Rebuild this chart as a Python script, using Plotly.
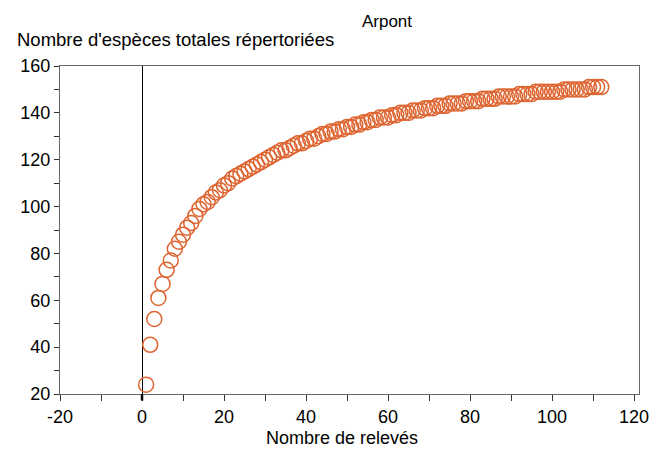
import plotly.graph_objects as go

releves = list(range(1, 113))
especes = [24, 41, 52, 61, 67, 73, 77, 82, 85, 88,
           91, 93, 96, 99, 101, 102, 104, 106, 107, 109,
           110, 112, 113, 114, 115, 116, 117, 118, 119, 120,
           121, 122, 123, 124, 124, 125, 126, 127, 127, 128,
           129, 129, 130, 131, 131, 132, 132, 133, 133, 134,
           134, 135, 135, 136, 136, 137, 137, 138, 138, 138,
           139, 139, 140, 140, 140, 141, 141, 141, 142, 142,
           142, 143, 143, 143, 144, 144, 144, 144, 145, 145,
           145, 145, 146, 146, 146, 146, 147, 147, 147, 147,
           147, 148, 148, 148, 148, 149, 149, 149, 149, 149,
           149, 149, 150, 150, 150, 150, 150, 150, 151, 151,
           151, 151]

x_ticks = [-20, 0, 20, 40, 60, 80, 100, 120]
x_labels = ["-20", "0", "20", "40", "60", "80", "100", "120"]
y_ticks = [20, 40, 60, 80, 100, 120, 140, 160]

FONT = "Liberation Sans, Arial, sans-serif"
COLOR = "#DE6430"
OFF = 8  # page body margin

fig = go.Figure()
fig.add_trace(go.Scatter(
    x=releves, y=especes, mode="markers",
    marker=dict(symbol="circle-open", size=15, color=COLOR, line=dict(width=1.5, color=COLOR)),
    showlegend=False,
))

fig.update_layout(
    width=664 - OFF, height=450 - OFF,
    margin=dict(l=57.5 - OFF, r=24.7, t=66 - OFF, b=56),
    paper_bgcolor="white", plot_bgcolor="white",
    font=dict(family=FONT, size=18, color="black"),
    title=dict(text="Arpont", x=(387 - OFF)/(664 - OFF), xanchor="center", xref="container",
               y=1-(21 - OFF)/(450 - OFF), yanchor="middle", yref="container",
               font=dict(family=FONT, size=17, color="black")),
)
fig.update_xaxes(
    range=[-20, 121.2], tickvals=x_ticks, ticktext=x_labels, ticks="outside", ticklen=6, tickcolor="#333",
    showline=True, linecolor="#666", linewidth=1, mirror=True, showgrid=False,
    zeroline=True, zerolinecolor="black", zerolinewidth=1,
    minor=dict(dtick=10, tick0=0, ticks="outside", ticklen=6, tickcolor="#333", showgrid=False),
    tickfont=dict(size=18),
)
fig.update_yaxes(
    range=[20, 160], tickvals=y_ticks, ticks="outside", ticklen=5, tickcolor="#333",
    showline=True, linecolor="#666", linewidth=1, mirror=True, showgrid=False, zeroline=False,
    minor=dict(dtick=10, tick0=0, ticks="outside", ticklen=5, tickcolor="#333", showgrid=False),
    tickfont=dict(size=18),
)
# thick zero tick below the axis
fig.add_shape(type="line", xref="x", yref="paper", x0=0, x1=0, y0=-0.02, y1=0,
              line=dict(color="black", width=2.5))
fig.add_annotation(text="Nombre d'espèces totales répertoriées", xref="paper", yref="paper",
                   x=(12-57.5)/581.8, y=(394-39)/328, xanchor="left", yanchor="middle",
                   showarrow=False, font=dict(family=FONT, size=18.5, color="black"))
fig.add_annotation(text="Nombre de relevés", xref="paper", yref="paper",
                   x=(341-57.5)/581.8, y=(394-438)/328, xanchor="center", yanchor="middle",
                   showarrow=False, font=dict(family=FONT, size=18, color="black"))

fig.write_html("out.html")
